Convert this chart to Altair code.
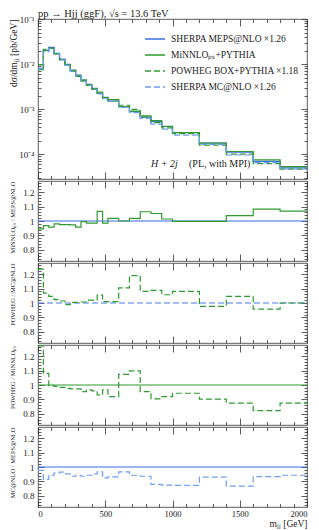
import altair as alt
import pandas as pd

# ---------------- data ----------------
edges = [0, 40, 80, 120, 160, 200, 240, 280, 320, 360, 400, 440, 480, 520,
         600, 680, 760, 840, 920, 1000, 1200, 1400, 1600, 1800, 2000]

# Sherpa MEPS@NLO (x1.26), dsigma/dm_jj [pb/GeV]
meps = [8.0e-3, 2.04e-2, 2.34e-2, 1.73e-2, 1.29e-2, 9.85e-3, 7.38e-3, 5.72e-3,
        4.43e-3, 3.56e-3, 2.90e-3, 2.25e-3, 1.84e-3, 1.60e-3, 1.14e-3, 8.86e-4,
        6.66e-4, 5.32e-4, 4.13e-4, 3.04e-4, 1.78e-4, 1.11e-4, 6.97e-5, 5.00e-5]

# ratio panels
ratio_minnlo_meps = [0.945, 0.968, 0.957, 0.980, 0.975, 0.975, 0.973, 0.957,
                     0.995, 0.985, 0.985, 1.066, 0.985, 1.018, 1.000, 1.018,
                     1.064, 1.052, 1.014, 0.998, 0.998, 1.037, 1.082, 1.068]
ratio_powheg_mcatnlo = [1.235, 1.068, 1.046, 1.023, 1.014, 0.989, 1.005, 1.005,
                        1.007, 1.020, 1.020, 1.055, 1.010, 1.010, 1.105, 1.190,
                        1.080, 1.087, 1.057, 1.080, 0.977, 1.046, 0.957, 1.000]
ratio_powheg_minnlo = [1.270, 1.080, 0.995, 0.990, 0.984, 0.977, 0.973, 0.973,
                       0.954, 0.966, 0.959, 0.932, 0.966, 0.920, 1.073, 1.098,
                       0.954, 0.904, 0.920, 0.943, 0.902, 0.874, 0.822, 0.874]
ratio_mcatnlo_meps = [0.977, 0.914, 0.943, 0.959, 0.964, 0.952, 0.936, 0.943,
                      0.936, 0.943, 0.952, 0.966, 0.925, 0.932, 0.966, 0.943,
                      0.936, 0.880, 0.875, 0.873, 0.930, 0.868, 0.934, 0.943]

series_names = ["SHERPA MEPS@NLO ×1.26", "MiNNLOₚₛ+PYTHIA",
                "POWHEG BOX+PYTHIA ×1.18", "SHERPA MC@NLO ×1.26"]
series_colors = ["#3d6fe3", "#2f9a2f", "#2f9a2f", "#6f9ff0"]
series_dashes = [[1, 0], [1, 0], [6, 3], [6, 3]]

ratio_titles = ["MiNNLOₚₛ / MEPS@NLO", "POWHEG / MC@NLO",
                "POWHEG / MiNNLOₚₛ", "MC@NLO / MEPS@NLO"]

x_major = [0, 500, 1000, 1500, 2000]
x_minor = [v for v in range(0, 2001, 100) if v % 500]
MAIN_DOMAIN = [2.83e-5, 0.1]
RATIO_DOMAIN = [0.723, 1.277]
main_major = [1e-4, 1e-3, 1e-2, 1e-1]
main_minor = [k * 10.0 ** e for e in range(-5, -1) for k in range(2, 10)
              if MAIN_DOMAIN[0] <= k * 10.0 ** e <= MAIN_DOMAIN[1]]
ratio_major = [0.8, 0.9, 1.0, 1.1, 1.2]
ratio_minor = [round(0.74 + 0.02 * i, 2) for i in range(27)]
ratio_minor = [v for v in ratio_minor if RATIO_DOMAIN[0] <= v <= RATIO_DOMAIN[1]
               and all(abs(v - m) > 1e-6 for m in ratio_major)]

# ---------------- derived series ----------------
minnlo = [m * r for m, r in zip(meps, ratio_minnlo_meps)]
mcatnlo = [m * r for m, r in zip(meps, ratio_mcatnlo_meps)]
powheg = [a * r for a, r in zip(minnlo, ratio_powheg_minnlo)]


def step_df(vals, name=""):
    return pd.DataFrame({"x": edges, "y": list(vals) + [vals[-1]], "s": name})


main_df = pd.concat([step_df(v, n) for v, n in
                     zip([meps, minnlo, powheg, mcatnlo], series_names)],
                    ignore_index=True)
ones = [1.0] * len(meps)

# ---------------- style ----------------
FONT = "Liberation Serif"
TXT = "#222222"
FRAME = "#333333"
W = 269
H_MAIN = 160
H_RATIO = 80
E0 = 24

xs = alt.Scale(domain=[0, 2000], nice=False, zero=False)
main_ys = alt.Scale(type="log", domain=MAIN_DOMAIN, nice=False)
ratio_ys = alt.Scale(domain=RATIO_DOMAIN, nice=False, zero=False)


def ax(orient, values, size, **extra):
    d = dict(orient=orient, values=values, tickSize=size, offset=-size,
             domain=False, grid=False, ticks=True, tickColor=FRAME,
             tickWidth=0.8, labels=False, title=None, minExtent=0, maxExtent=0)
    d.update(extra)
    return alt.Axis(**d)


def left_axis(values, title, tfs, tpad, **extra):
    return ax("left", values, 6, labels=True, labelFont=FONT, labelFontSize=9,
              labelColor=TXT, labelPadding=4, minExtent=E0, maxExtent=E0,
              title=title, titleFont=FONT, titleFontSize=tfs,
              titleFontWeight="normal", titleColor=TXT, titlePadding=tpad,
              titleAnchor="end", **extra)


def carriers(df, ys, ymajor, yminor, laxis, baxis):
    base = alt.Chart(df).mark_line(opacity=0)
    return [
        base.encode(x=alt.X("x:Q", scale=xs, axis=baxis),
                    y=alt.Y("y:Q", scale=ys, axis=laxis)),
        base.encode(x=alt.X("x:Q", scale=xs, axis=ax("bottom", x_minor, 3.5)),
                    y=alt.Y("y:Q", scale=ys, axis=ax("left", yminor, 3))),
        base.encode(x=alt.X("x:Q", scale=xs, axis=ax("top", x_major, 7)),
                    y=alt.Y("y:Q", scale=ys, axis=ax("right", ymajor, 6))),
        base.encode(x=alt.X("x:Q", scale=xs, axis=ax("top", x_minor, 3.5)),
                    y=alt.Y("y:Q", scale=ys, axis=ax("right", yminor, 3))),
    ]


def line(df, color, dash, ys):
    return alt.Chart(df).mark_line(interpolate="step-after", strokeWidth=1.2,
                                   clip=True, color=color,
                                   strokeDash=dash).encode(
        x=alt.X("x:Q", scale=xs, axis=None),
        y=alt.Y("y:Q", scale=ys, axis=None))


# ---------------- main panel ----------------
leg = alt.Legend(orient="none", legendX=106, legendY=9, title=None,
                 symbolType="stroke", symbolSize=400, symbolStrokeWidth=1.3,
                 labelFont=FONT, labelFontSize=9.5, labelColor=TXT,
                 labelLimit=0, rowPadding=-6, labelOffset=5, padding=0)

main_lines = alt.Chart(main_df).mark_line(
    interpolate="step-after", strokeWidth=1.2, clip=True).encode(
    x=alt.X("x:Q", scale=xs, axis=None),
    y=alt.Y("y:Q", scale=main_ys, axis=None),
    color=alt.Color("s:N", scale=alt.Scale(domain=series_names,
                                           range=series_colors), legend=leg),
    strokeDash=alt.StrokeDash("s:N", scale=alt.Scale(domain=series_names,
                                                     range=series_dashes),
                              legend=leg),
)

label_expr = ("datum.value > 0.05 ? '10⁻¹' : datum.value > 0.005 ? '10⁻²' : "
              "datum.value > 0.0005 ? '10⁻³' : '10⁻⁴'")
main_left = left_axis(main_major, "dσ/dmⱼⱼ [pb/GeV]", 9.5, 1.3,
                      labelExpr=label_expr)
main_carriers = carriers(step_df(meps), main_ys, main_major, main_minor,
                         main_left, ax("bottom", x_major, 7))

ann1 = alt.Chart(pd.DataFrame({"t": ["H + 2j"]})).mark_text(
    align="left", baseline="middle", font=FONT, fontSize=10,
    fontStyle="italic", color=TXT).encode(
    text="t:N", x=alt.value(113), y=alt.value(145))
ann2 = alt.Chart(pd.DataFrame({"t": ["(PL, with MPI)"]})).mark_text(
    align="left", baseline="middle", font=FONT, fontSize=10,
    color=TXT).encode(
    text="t:N", x=alt.value(151), y=alt.value(145))

main = alt.layer(main_lines, *main_carriers, ann1, ann2).resolve_axis(
    x="independent", y="independent").properties(
    width=W, height=H_MAIN,
    title=alt.Title("pp → Hjj (ggF), √s = 13.6 TeV", anchor="start",
                    frame="group", font=FONT, fontSize=10.5,
                    fontWeight="normal", color=TXT, offset=-4))

# ---------------- ratio panels ----------------
ratio_specs = [
    (ones, series_colors[0], [1, 0], ratio_minnlo_meps, series_colors[1], [1, 0]),
    (ones, "#4a7be8", [6, 3], ratio_powheg_mcatnlo, series_colors[2], [6, 3]),
    (ones, series_colors[1], [1, 0], ratio_powheg_minnlo, series_colors[2], [6, 3]),
    (ones, series_colors[0], [1, 0], ratio_mcatnlo_meps, series_colors[3], [6, 3]),
]

panels = [main]
for i, (ref, rc, rd, vals, vc, vd) in enumerate(ratio_specs):
    last = i == len(ratio_specs) - 1
    laxis = left_axis(ratio_major, ratio_titles[i], 6.5, 4.3, format=".1~f")
    if last:
        baxis = ax("bottom", x_major, 7, labels=True, labelFont=FONT,
                   labelFontSize=8.5, labelColor=TXT, labelPadding=2,
                   labelFlush=True, format="d", minExtent=16.5, maxExtent=16.5,
                   title="mⱼⱼ [GeV]", titleFont=FONT, titleFontSize=9.5,
                   titleFontWeight="normal", titleColor=TXT,
                   titleAnchor="end", titlePadding=2)
    else:
        baxis = ax("bottom", x_major, 7)
    layers = [line(step_df(ref), rc, rd, ratio_ys),
              line(step_df(vals), vc, vd, ratio_ys)]
    layers += carriers(step_df(ref), ratio_ys, ratio_major, ratio_minor,
                       laxis, baxis)
    panels.append(alt.layer(*layers).resolve_axis(
        x="independent", y="independent").properties(width=W, height=H_RATIO))

chart = alt.vconcat(*panels, spacing=0).properties(
    padding={"left": 0, "top": 0, "right": 0, "bottom": 0},
    background="white",
).configure_view(stroke=FRAME, strokeWidth=0.8)

chart.save("out.html", embed_options={"renderer": "svg", "actions": False})
